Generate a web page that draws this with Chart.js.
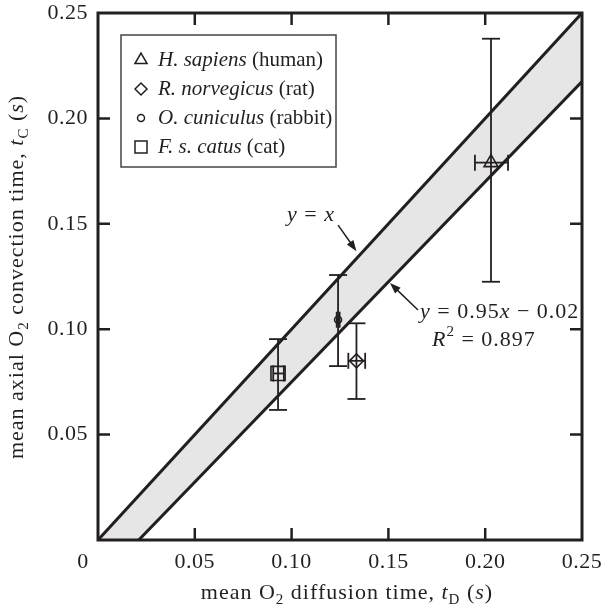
<!DOCTYPE html>
<html>
<head>
<meta charset="utf-8">
<script src="https://cdn.jsdelivr.net/npm/chart.js@4.4.1/dist/chart.umd.min.js"></script>
<style>
  html, body { margin: 0; padding: 0; background: #fff; }
  #chart { display: block; }
  .preload { position: absolute; left: -999px; top: 0; font-family: "Liberation Serif"; font-size: 22px; }
</style>
</head>
<body>
<canvas id="chart" width="610" height="613"></canvas>
<span class="preload">0.05 <i>H. sapiens</i></span>
<script>
// species data (times in seconds)
const speciesNames = ['H. sapiens', 'R. norvegicus', 'O. cuniculus', 'F. s. catus'];
const commonNames = ['human', 'rat', 'rabbit', 'cat'];
const markerStyles = ['triangle', 'rectRot', 'circle', 'rect'];
const markerRadius = [8, 7, 3.5, 10];
const legendRadius = [7, 6, 3.5, 8.5];

const diffusionTime = [0.203, 0.1335, 0.124, 0.093];
const convectionTime = [0.179, 0.085, 0.1045, 0.079];
const diffusionLow = [0.1947, 0.1293, 0.1233, 0.0905];
const diffusionHigh = [0.2118, 0.138, 0.1248, 0.096];
const convectionLow = [0.1225, 0.0669, 0.0825, 0.0617];
const convectionHigh = [0.2378, 0.1028, 0.1257, 0.0953];

// y = x and fitted line y = 0.95x - 0.02
const identityX = [0, 0.25];
const identityY = [0, 0.25];
const fitX = [0, 0.25];
const fitY = [-0.02, 0.2175];

const xTicks = [0, 0.05, 0.1, 0.15, 0.2, 0.25];
const xTickLabels = ['0', '0.05', '0.10', '0.15', '0.20', '0.25'];
const yTicks = [0.05, 0.1, 0.15, 0.2, 0.25];
const yTickLabels = ['0.05', '0.10', '0.15', '0.20', '0.25'];

const INK = '#231f20';
const BAND = '#e6e6e6';
const SERIF = '"Liberation Serif", "Times New Roman", Times, serif';

// rich text: [text, style] with style '' | 'i' | 'sub' | 'sup'
function segFont(size, style) {
  const s = (style === 'sub' || style === 'sup') ? Math.round(size * 0.7) : size;
  return (style === 'i' ? 'italic ' : '') + s + 'px ' + SERIF;
}

function richWidth(ctx, segs, size) {
  let w = 0;
  segs.forEach(([t, st]) => { ctx.font = segFont(size, st); w += ctx.measureText(t).width; });
  return w;
}

function drawRich(ctx, segs, x, y, size, align) {
  const w = richWidth(ctx, segs, size);
  let cx = align === 'center' ? x - w / 2 : align === 'right' ? x - w : x;
  ctx.textBaseline = 'middle';
  ctx.textAlign = 'left';
  segs.forEach(([t, st]) => {
    ctx.font = segFont(size, st);
    const dy = st === 'sub' ? size * 0.3 : st === 'sup' ? -size * 0.35 : 0;
    ctx.fillText(t, cx, y + dy);
    cx += ctx.measureText(t).width;
  });
}

function arrow(ctx, x0, y0, x1, y1) {
  const a = Math.atan2(y1 - y0, x1 - x0);
  const len = 11, half = 4;
  ctx.beginPath();
  ctx.moveTo(x0, y0);
  ctx.lineTo(x1 - Math.cos(a) * len * 0.8, y1 - Math.sin(a) * len * 0.8);
  ctx.stroke();
  ctx.beginPath();
  ctx.moveTo(x1, y1);
  ctx.lineTo(x1 - Math.cos(a) * len - Math.sin(a) * half, y1 - Math.sin(a) * len + Math.cos(a) * half);
  ctx.lineTo(x1 - Math.cos(a) * len + Math.sin(a) * half, y1 - Math.sin(a) * len - Math.cos(a) * half);
  ctx.closePath();
  ctx.fill();
}

const annotations = [
  { segs: [['y', 'i'], [' = ', ''], ['x', 'i']], at: [0.110, 0.1542], align: 'center',
    from: [0.124, 0.1494], to: [0.1335, 0.137] },
  { segs: [['y', 'i'], [' = 0.95', ''], ['x', 'i'], [' \u2212 0.02', '']], at: [0.1663, 0.1082], align: 'left',
    from: [0.1653, 0.1091], to: [0.1508, 0.1219] },
  { segs: [['R', 'i'], ['2', 'sup'], [' = 0.897', '']], at: [0.1725, 0.0949], align: 'left' }
];

const errorBars = {
  id: 'errorBars',
  afterDatasetsDraw(chart) {
    const { ctx, scales: { x, y } } = chart;
    ctx.save();
    ctx.strokeStyle = INK;
    ctx.lineWidth = 1.8;
    const seg = (a, b, c, d) => { ctx.beginPath(); ctx.moveTo(a, b); ctx.lineTo(c, d); ctx.stroke(); };
    diffusionTime.forEach((_, i) => {
      const cx = x.getPixelForValue(diffusionTime[i]);
      const cy = y.getPixelForValue(convectionTime[i]);
      const yLo = y.getPixelForValue(convectionLow[i]);
      const yHi = y.getPixelForValue(convectionHigh[i]);
      const xLo = x.getPixelForValue(diffusionLow[i]);
      const xHi = x.getPixelForValue(diffusionHigh[i]);
      seg(cx, yLo, cx, yHi);
      seg(cx - 9, yLo, cx + 9, yLo);
      seg(cx - 9, yHi, cx + 9, yHi);
      seg(xLo, cy, xHi, cy);
      seg(xLo, cy - 8, xLo, cy + 8);
      seg(xHi, cy - 8, xHi, cy + 8);
    });
    ctx.restore();
  }
};

const decor = {
  id: 'decor',
  afterDraw(chart) {
    const { ctx, chartArea: a, scales: { x, y } } = chart;
    ctx.save();
    ctx.fillStyle = INK;
    ctx.strokeStyle = INK;

    // frame
    ctx.lineWidth = 3;
    ctx.strokeRect(a.left, a.top, a.right - a.left, a.bottom - a.top);

    // inward ticks on all four sides
    ctx.lineWidth = 2.5;
    const T = 12;
    xTicks.forEach(v => {
      if (v <= x.min || v >= x.max) return;
      const px = x.getPixelForValue(v);
      ctx.beginPath();
      ctx.moveTo(px, a.bottom); ctx.lineTo(px, a.bottom - T);
      ctx.moveTo(px, a.top); ctx.lineTo(px, a.top + T);
      ctx.stroke();
    });
    yTicks.forEach(v => {
      if (v <= y.min || v >= y.max) return;
      const py = y.getPixelForValue(v);
      ctx.beginPath();
      ctx.moveTo(a.left, py); ctx.lineTo(a.left + T, py);
      ctx.moveTo(a.right, py); ctx.lineTo(a.right - T, py);
      ctx.stroke();
    });

    // tick labels
    ctx.font = '22px ' + SERIF;
    ctx.letterSpacing = '0.5px';
    ctx.textBaseline = 'middle';
    ctx.textAlign = 'center';
    xTicks.forEach((v, i) => {
      const shift = v === 0 ? -15 : 0;
      ctx.fillText(xTickLabels[i], x.getPixelForValue(v) + shift, a.bottom + 22);
    });
    ctx.textAlign = 'right';
    yTicks.forEach((v, i) => {
      ctx.fillText(yTickLabels[i], a.left - 10, y.getPixelForValue(v));
    });

    // axis titles
    ctx.letterSpacing = '1px';
    drawRich(ctx, [['mean O', ''], ['2', 'sub'], [' diffusion time, ', ''], ['t', 'i'], ['D', 'sub'],
      [' (', ''], ['s', 'i'], [')', '']], (a.left + a.right) / 2 + 7, a.bottom + 53, 22, 'center');
    ctx.save();
    ctx.translate(17, 277);
    ctx.rotate(-Math.PI / 2);
    drawRich(ctx, [['mean axial O', ''], ['2', 'sub'], [' convection time, ', ''], ['t', 'i'], ['C', 'sub'],
      [' (', ''], ['s', 'i'], [')', '']], 0, 0, 22, 'center');
    ctx.restore();

    // annotations with arrows
    ctx.lineWidth = 1.5;
    annotations.forEach(n => {
      drawRich(ctx, n.segs, x.getPixelForValue(n.at[0]), y.getPixelForValue(n.at[1]), 22, n.align);
      if (n.from) {
        arrow(ctx, x.getPixelForValue(n.from[0]), y.getPixelForValue(n.from[1]),
          x.getPixelForValue(n.to[0]), y.getPixelForValue(n.to[1]));
      }
    });

    // legend box
    const lx = 121, ly = 35, lw = 215, lh = 132;
    ctx.fillStyle = '#fff';
    ctx.fillRect(lx, ly, lw, lh);
    ctx.strokeStyle = '#444';
    ctx.lineWidth = 1.5;
    ctx.strokeRect(lx, ly, lw, lh);
    ctx.strokeStyle = INK;
    ctx.letterSpacing = '0px';
    speciesNames.forEach((name, i) => {
      const ry = ly + 25 + i * 29;
      ctx.fillStyle = '#fff';
      ctx.lineWidth = 1.5;
      Chart.helpers.drawPoint(ctx, {
        pointStyle: markerStyles[i], radius: legendRadius[i], rotation: 0, borderWidth: 1.5
      }, lx + 20, ry);
      ctx.fillStyle = INK;
      drawRich(ctx, [[name, 'i'], [' (' + commonNames[i] + ')', '']], lx + 37, ry, 21, 'left');
    });
    ctx.restore();
  }
};

const speciesSets = speciesNames.map((name, i) => ({
  type: 'scatter',
  label: name,
  data: [{ x: diffusionTime[i], y: convectionTime[i] }],
  pointStyle: markerStyles[i],
  pointRadius: markerRadius[i],
  borderColor: INK,
  backgroundColor: 'rgba(0,0,0,0)',
  borderWidth: 1.6,
  order: 0
}));

function draw() {
  new Chart(document.getElementById('chart'), {
    type: 'scatter',
    data: {
      datasets: [
        {
          type: 'line', label: 'y = x',
          data: identityX.map((v, i) => ({ x: v, y: identityY[i] })),
          borderColor: INK, borderWidth: 3, pointRadius: 0,
          fill: '+1', backgroundColor: BAND, order: 10
        },
        {
          type: 'line', label: 'fit',
          data: fitX.map((v, i) => ({ x: v, y: fitY[i] })),
          borderColor: INK, borderWidth: 3, pointRadius: 0, fill: false, order: 9
        },
        ...speciesSets
      ]
    },
    options: {
      responsive: false,
      animation: false,
      devicePixelRatio: 1,
      layout: { padding: { left: 98, right: 28, top: 13, bottom: 73 } },
      scales: {
        x: { type: 'linear', min: 0, max: 0.25, display: false },
        y: { type: 'linear', min: 0, max: 0.25, display: false }
      },
      plugins: {
        legend: { display: false },
        tooltip: { enabled: false },
        filler: { drawTime: 'beforeDatasetsDraw' }
      }
    },
    plugins: [errorBars, decor]
  });
}

Promise.all([
  document.fonts.load('22px "Liberation Serif"'),
  document.fonts.load('italic 22px "Liberation Serif"')
]).then(draw, draw);
</script>
</body>
</html>
